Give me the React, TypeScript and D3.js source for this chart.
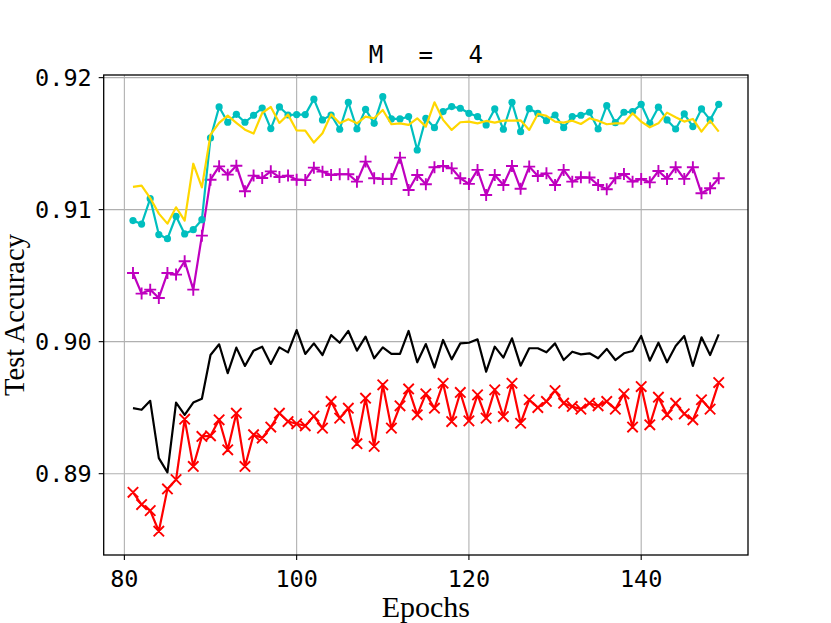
import React from 'react';
import * as d3 from 'd3';

// epochs 81..149
const epochs: number[] = d3.range(81, 150);

const cyanSeries: number[] = [
  0.90917, 0.90891, 0.91083, 0.90811, 0.9078, 0.9095, 0.90816, 0.90848, 0.90924, 0.91543,
  0.91778, 0.91662, 0.91722, 0.91662, 0.91715, 0.9177, 0.91614, 0.91778, 0.91717, 0.9172,
  0.9172, 0.91837, 0.9168, 0.91717, 0.91609, 0.91813, 0.91611, 0.9176, 0.91654, 0.91856,
  0.91687, 0.91687, 0.91705, 0.91452, 0.91692, 0.91621, 0.91743, 0.91781, 0.91768, 0.9173,
  0.91705, 0.91642, 0.91763, 0.91609, 0.91813, 0.91591, 0.91765, 0.9173, 0.91674, 0.91717,
  0.91621, 0.91705, 0.91715, 0.91738, 0.91611, 0.91788, 0.91659, 0.91738, 0.91743, 0.91798,
  0.91654, 0.91776, 0.9168, 0.91611, 0.91725, 0.91629, 0.91763, 0.9168, 0.91798,
];

const yellowSeries: number[] = [
  0.91172, 0.91182, 0.91088, 0.9097, 0.90894, 0.91018, 0.90917, 0.91348, 0.91169, 0.91568,
  0.91657, 0.91712, 0.91657, 0.91606, 0.91576, 0.91732, 0.91778, 0.91657, 0.9172, 0.916,
  0.91598, 0.91508, 0.91579, 0.91722, 0.91654, 0.91685, 0.91654, 0.91705, 0.91692, 0.91755,
  0.91647, 0.91654, 0.91642, 0.91692, 0.91629, 0.91813, 0.9168, 0.91604, 0.91662, 0.91667,
  0.91654, 0.91672, 0.91659, 0.91674, 0.91674, 0.91677, 0.91604, 0.91725, 0.9171, 0.91667,
  0.91659, 0.91674, 0.91649, 0.91692, 0.91674, 0.91647, 0.91654, 0.91654, 0.9173, 0.91667,
  0.91624, 0.91654, 0.91735, 0.917, 0.91667, 0.91687, 0.91591, 0.91674, 0.91591,
];

const magentaSeries: number[] = [
  0.9052, 0.90364, 0.90394, 0.90331, 0.9052, 0.90508, 0.90609, 0.90394, 0.90803, 0.91227,
  0.91328, 0.91265, 0.91333, 0.91139, 0.91258, 0.9124, 0.9129, 0.91247, 0.91258, 0.91227,
  0.91224, 0.91318, 0.91288, 0.91263, 0.91268, 0.91268, 0.91212, 0.91364, 0.91238, 0.91233,
  0.91233, 0.91394, 0.91149, 0.91263, 0.91192, 0.91321, 0.91331, 0.91313, 0.91238, 0.91195,
  0.91301, 0.91111, 0.91263, 0.91187, 0.91331, 0.91158, 0.91326, 0.91255, 0.91275, 0.91187,
  0.91301, 0.91212, 0.91245, 0.91243, 0.91187, 0.91154, 0.91238, 0.9127, 0.91212, 0.91233,
  0.91207, 0.91293, 0.91233, 0.91321, 0.91233, 0.91321, 0.91124, 0.91162, 0.91238,
];

const blackSeries: number[] = [
  0.89496, 0.89484, 0.89552, 0.89118, 0.8901, 0.89539, 0.89446, 0.89539, 0.89567, 0.89899,
  0.8998, 0.89761, 0.89955, 0.89816, 0.89932, 0.89962, 0.89831, 0.89957, 0.89919, 0.90088,
  0.89907, 0.89987, 0.89899, 0.9005, 0.89992, 0.90081, 0.89932, 0.90038, 0.89874, 0.89957,
  0.89907, 0.89907, 0.90081, 0.89844, 0.89982, 0.89804, 0.90013, 0.89866, 0.89987, 0.89992,
  0.90018, 0.89773, 0.89962, 0.89879, 0.90025, 0.89818, 0.8995, 0.8995, 0.89919, 0.89987,
  0.89861, 0.89924, 0.89904, 0.89912, 0.89874, 0.89945, 0.89861, 0.89912, 0.89929, 0.90043,
  0.89856, 0.89992, 0.89844, 0.89967, 0.90043, 0.89816, 0.90033, 0.89899, 0.90055,
];

const redSeries: number[] = [
  0.88859, 0.88766, 0.8872, 0.88564, 0.88884, 0.88955, 0.89413, 0.89055, 0.89282, 0.89287,
  0.89408, 0.89181, 0.89458, 0.89055, 0.89295, 0.8927, 0.89353, 0.89458, 0.89395, 0.89378,
  0.89363, 0.89436, 0.89345, 0.89547, 0.89421, 0.89496, 0.89227, 0.89572, 0.89207, 0.89673,
  0.89345, 0.89514, 0.89642, 0.89446, 0.89605, 0.89496, 0.89685, 0.89395, 0.89615, 0.894,
  0.89597, 0.89421, 0.89635, 0.89433, 0.89685, 0.89382, 0.8956, 0.89501, 0.89547, 0.8963,
  0.89534, 0.89509, 0.89489, 0.89534, 0.89514, 0.89547, 0.89489, 0.89605, 0.89353, 0.8966,
  0.8937, 0.89579, 0.89446, 0.89534, 0.89453, 0.89408, 0.8956, 0.89489, 0.8969,
];

const xTicks: number[] = [80, 100, 120, 140];
const yTicks: number[] = [0.89, 0.9, 0.91, 0.92];

const titleText = 'M = 4';
const xLabel = 'Epochs';
const yLabel = 'Test Accuracy';

type Marker = 'none' | 'dot' | 'plus' | 'x';

interface Series {
  values: number[];
  color: string;
  marker: Marker;
}

// drawing order: last one ends up on top
const seriesList: Series[] = [
  { values: blackSeries, color: '#000000', marker: 'none' },
  { values: redSeries, color: '#ff0000', marker: 'x' },
  { values: magentaSeries, color: '#bf00bf', marker: 'plus' },
  { values: cyanSeries, color: '#00bfbf', marker: 'dot' },
  { values: yellowSeries, color: '#ffd700', marker: 'none' },
];

const W = 831;
const H = 623;
const plot = { left: 103.7, right: 748, top: 75, bottom: 555 };
const tickFont = '"DejaVu Sans Mono", monospace';
const serifFont = '"Liberation Serif", "Times New Roman", serif';

const App: React.FC = () => {
  const x = d3.scaleLinear().domain([77.6, 152.4]).range([plot.left, plot.right]);
  const y = d3.scaleLinear().domain([0.88384, 0.9202]).range([plot.bottom, plot.top]);

  const line = d3
    .line<number>()
    .x((_, i) => x(epochs[i]))
    .y((d) => y(d));

  const markerPath = (m: Marker, cx: number, cy: number) => {
    const s = 6;
    if (m === 'plus') return `M${cx - s},${cy}L${cx + s},${cy}M${cx},${cy - s}L${cx},${cy + s}`;
    if (m === 'x') {
      const t = 5.2;
      return `M${cx - t},${cy - t}L${cx + t},${cy + t}M${cx - t},${cy + t}L${cx + t},${cy - t}`;
    }
    return '';
  };

  return (
    <svg
      width={W}
      height={H}
      style={{ position: 'absolute', left: 0, top: 0, background: '#fff' }}
    >
      <rect x={0} y={0} width={W} height={H} fill="#fff" />

      {/* grid */}
      <g stroke="#b0b0b0" strokeWidth={1.1}>
        {xTicks.map((t) => (
          <line key={'gx' + t} x1={x(t)} x2={x(t)} y1={plot.top} y2={plot.bottom} />
        ))}
        {yTicks.map((t) => (
          <line key={'gy' + t} x1={plot.left} x2={plot.right} y1={y(t)} y2={y(t)} />
        ))}
      </g>

      <defs>
        <clipPath id="plotClip">
          <rect x={plot.left} y={plot.top} width={plot.right - plot.left} height={plot.bottom - plot.top} />
        </clipPath>
      </defs>

      {/* series */}
      <g clipPath="url(#plotClip)">
        {seriesList.map((s, si) => (
          <g key={si}>
            <path d={line(s.values) || ''} fill="none" stroke={s.color} strokeWidth={2.2} strokeLinejoin="round" />
            {s.marker === 'dot' &&
              s.values.map((v, i) => (
                <circle key={i} cx={x(epochs[i])} cy={y(v)} r={3.6} fill={s.color} />
              ))}
            {(s.marker === 'plus' || s.marker === 'x') && (
              <path
                d={s.values.map((v, i) => markerPath(s.marker, x(epochs[i]), y(v))).join('')}
                stroke={s.color}
                strokeWidth={1.9}
                fill="none"
              />
            )}
          </g>
        ))}
      </g>

      {/* frame */}
      <rect
        x={plot.left}
        y={plot.top}
        width={plot.right - plot.left}
        height={plot.bottom - plot.top}
        fill="none"
        stroke="#000"
        strokeWidth={1.3}
      />

      {/* x axis */}
      <g>
        {xTicks.map((t) => (
          <g key={'xt' + t}>
            <line x1={x(t)} x2={x(t)} y1={plot.bottom} y2={plot.bottom + 5} stroke="#000" strokeWidth={1.1} />
            <text
              x={x(t)}
              y={plot.bottom + 32}
              textAnchor="middle"
              fontFamily={tickFont}
              fontSize={23.5}
              fill="#000"
            >
              {t}
            </text>
          </g>
        ))}
      </g>

      {/* y axis */}
      <g>
        {yTicks.map((t) => (
          <g key={'yt' + t}>
            <line x1={plot.left - 5} x2={plot.left} y1={y(t)} y2={y(t)} stroke="#000" strokeWidth={1.1} />
            <text
              x={plot.left - 12}
              y={y(t) + 8.5}
              textAnchor="end"
              fontFamily={tickFont}
              fontSize={23.5}
              fill="#000"
            >
              {d3.format('.2f')(t)}
            </text>
          </g>
        ))}
      </g>

      {/* title */}
      <text
        x={(plot.left + plot.right) / 2}
        y={63}
        textAnchor="middle"
        fontFamily={tickFont}
        fontSize={24}
        style={{ whiteSpace: 'pre', wordSpacing: '21px' }}
        fill="#000"
      >
        {titleText}
      </text>

      {/* axis labels */}
      <text
        x={(plot.left + plot.right) / 2}
        y={617}
        textAnchor="middle"
        fontFamily={serifFont}
        fontSize={30}
        fill="#000"
      >
        {xLabel}
      </text>
      <text
        transform={`translate(24, ${(plot.top + plot.bottom) / 2}) rotate(-90)`}
        textAnchor="middle"
        fontFamily={serifFont}
        fontSize={28.5}
        fill="#000"
      >
        {yLabel}
      </text>
    </svg>
  );
};

export default App;
